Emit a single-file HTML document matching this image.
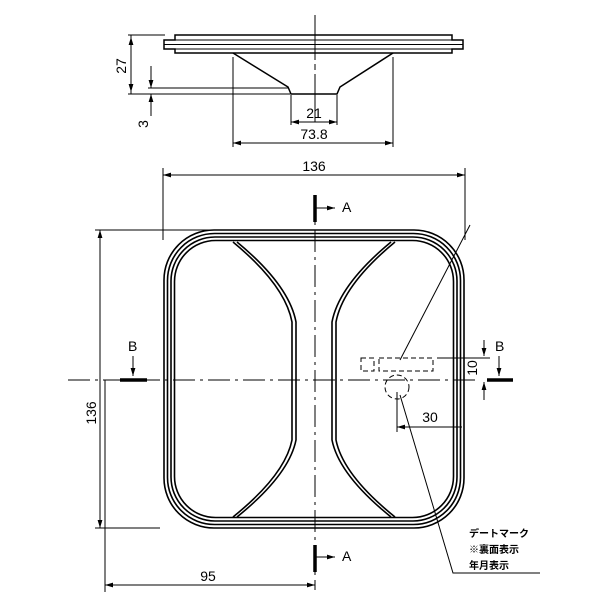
<!DOCTYPE html><html><head><style>body{margin:0;background:#fff}svg{display:block}text{font-family:"Liberation Sans","Noto Sans CJK JP",sans-serif;fill:#000}</style></head><body>
<svg width="600" height="600" viewBox="0 0 600 600" xmlns="http://www.w3.org/2000/svg">
<defs><marker id="a" viewBox="0 0 10 6" refX="10" refY="3" markerWidth="8" markerHeight="5" orient="auto-start-reverse" markerUnits="userSpaceOnUse"><path d="M0,0L10,3L0,6z" fill="#000"/></marker></defs>
<g stroke="#000" fill="none" stroke-width="1">
<!-- top view -->
<path d="M175,35H452V40H463V49H452V53H175V49H164V40H175Z" stroke-width="1.5"/>
<path d="M164,44.5H463M175,40H452M175,49H452"/>
<path d="M233,53L288,87L291,94H337L340,87L393,53" stroke-width="1.5"/>
<path d="M315,15V60M315,64V70M315,74V122" />
<path d="M128,35H165M128,94H290M148,88H288M131,35V94" />
<path d="M131,37V92" marker-start="url(#a)" marker-end="url(#a)"/>
<path d="M151,66V88" marker-end="url(#a)"/><path d="M151,116V94" marker-end="url(#a)"/>
<path d="M291,95V125M337,95V125M233,57V147M393,57V147"/>
<path d="M291,122H337" marker-start="url(#a)" marker-end="url(#a)"/>
<path d="M233,143H393" marker-start="url(#a)" marker-end="url(#a)"/>
<!-- main -->
<path d="M163,168V240M465,168V240" />
<path d="M163,175H465" marker-start="url(#a)" marker-end="url(#a)"/>
<path d="M95,230H215M95,528H160" />
<path d="M100,230V528" marker-start="url(#a)" marker-end="url(#a)"/>
<path d="M105,380V592"/>
<path d="M105,585H315" marker-start="url(#a)" marker-end="url(#a)"/>
<path d="M68,380H475" stroke-dasharray="22,5,3,5"/>
<path d="M315,195V590" stroke-dasharray="22,5,3,5"/>
<g stroke-width="1.6">
<rect x="164" y="230" width="300" height="298" rx="50"/>
<rect x="167.5" y="233.5" width="293" height="291" rx="47"/>
<rect x="171" y="237" width="286" height="284" rx="44"/>
<rect x="174.5" y="240.5" width="279" height="277" rx="41"/>
<path d="M233,242Q285,285 292,322V440Q285,475 233,517"/>
<path d="M237,242Q289,285 296,322V440Q289,475 237,517"/>
<path d="M395,242Q343,285 336,322V440Q343,475 395,517"/>
<path d="M391,242Q339,285 332,322V440Q339,475 391,517"/>
</g>
<!-- markers -->
<path d="M315,195V222M315,545V572M120,380H147M487,380H513" stroke-width="3.5"/>
<path d="M315,208H335" marker-end="url(#a)"/><path d="M315,557H335" marker-end="url(#a)"/>
<path d="M133,356V376" marker-end="url(#a)"/><path d="M499,356V376" marker-end="url(#a)"/>
<!-- date mark -->
<g stroke-dasharray="5,3"><rect x="361" y="358" width="13" height="13"/><rect x="379" y="358" width="54" height="13"/><circle cx="397" cy="387" r="12"/></g>
<path d="M400,360L470,225"/>
<path d="M437,358H490" />
<path d="M484,340V356" marker-end="url(#a)"/><path d="M484,400V382" marker-end="url(#a)"/>
<path d="M397,392V432M397,427H462" />
<path d="M462,427H397" marker-end="url(#a)"/>
<path d="M400,395L453,573H540"/>
</g>
<g font-size="14">
<text x="314" y="118" text-anchor="middle">21</text>
<text x="314" y="139" text-anchor="middle">73.8</text>
<text transform="translate(126,66) rotate(-90)" text-anchor="middle">27</text>
<text transform="translate(148,124) rotate(-90)" text-anchor="middle">3</text>
<text x="314" y="171" text-anchor="middle">136</text>
<text transform="translate(96,413) rotate(-90)" text-anchor="middle">136</text>
<text x="208" y="581" text-anchor="middle">95</text>
<text x="430" y="422" text-anchor="middle">30</text>
<text transform="translate(477,368) rotate(-90)" text-anchor="middle">10</text>
<text x="342" y="212">A</text><text x="342" y="561">A</text>
<text x="128" y="351">B</text><text x="495" y="351">B</text>
</g>
<g font-size="10" font-weight="bold"><text x="469" y="537">デートマーク</text><text x="469" y="553">※裏面表示</text><text x="469" y="569">年月表示</text></g>
</svg></body></html>
